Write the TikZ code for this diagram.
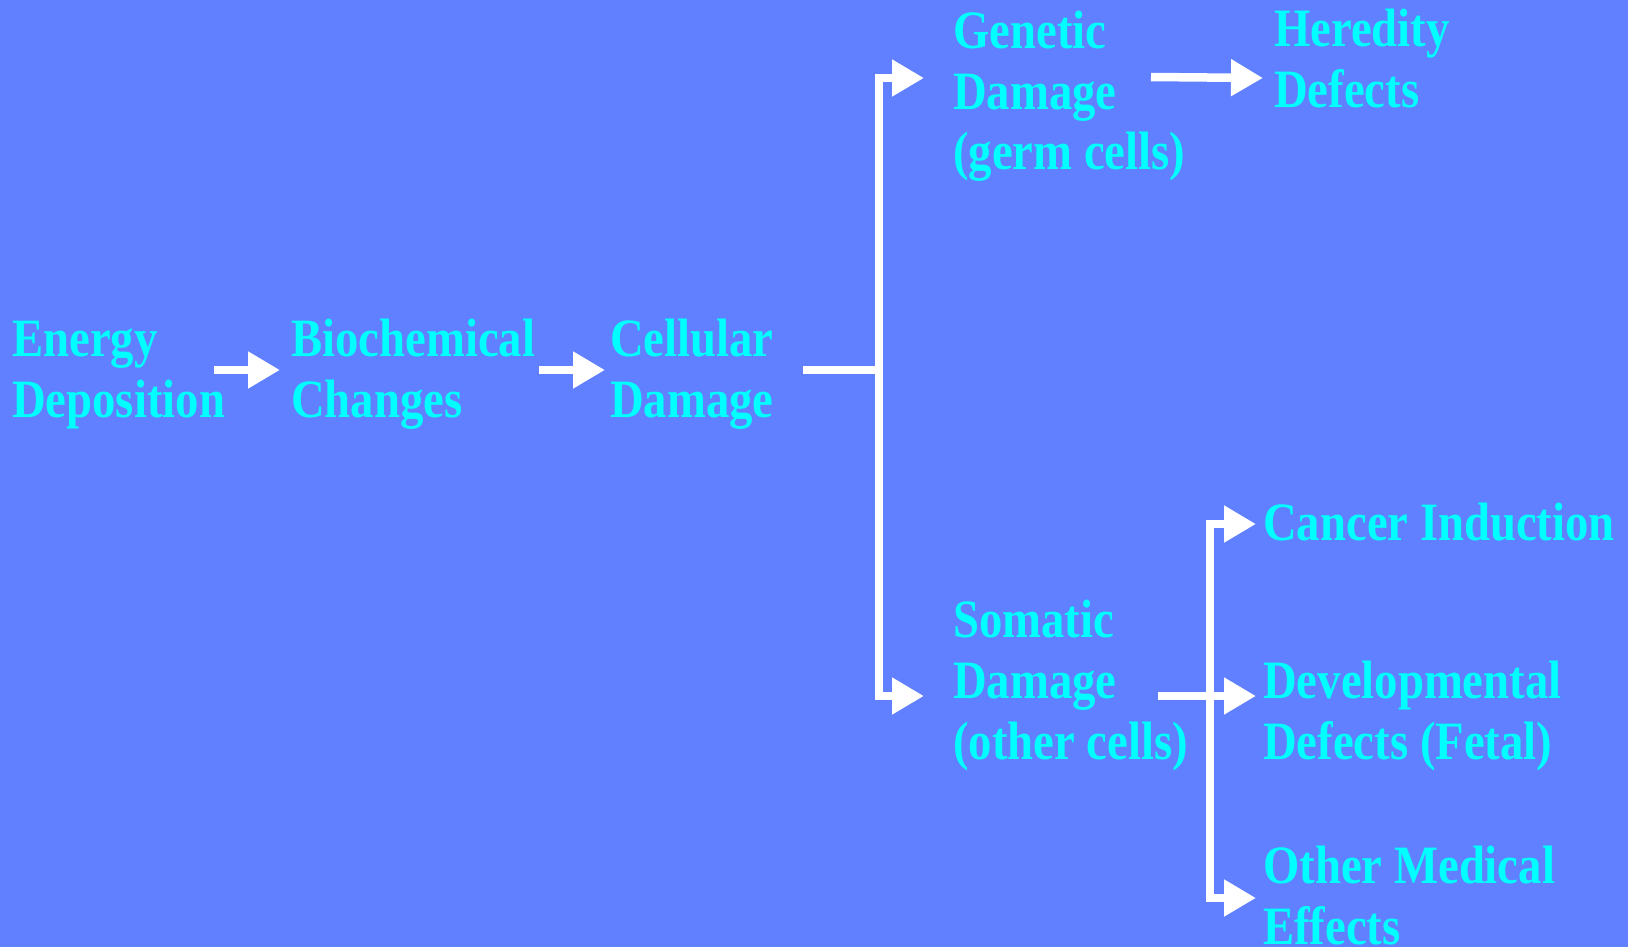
\documentclass[tikz,border=0pt]{standalone}
\usepackage{fontspec}
\setmainfont{Liberation Serif}[FakeStretch=0.865]
\usetikzlibrary{arrows.meta}
\definecolor{bgblue}{HTML}{6080FF}
\definecolor{txtcyan}{HTML}{00FFFF}
\begin{document}
\begin{tikzpicture}[x=1pt,y=-1pt,
  lbl/.style={anchor=base west, inner sep=0pt, align=left, text=txtcyan,
    font=\bfseries\fontsize{54}{61}\selectfont},
  conn/.style={draw=white, line width=8.5pt},
  arr/.style={conn, -{Triangle[length=32pt,width=35pt]}}]
\fill[bgblue] (0,0) rectangle (1628,947);
\useasboundingbox (0,0) rectangle (1628,947);
% nodes (anchor = baseline of last line)
\node[lbl] (energy) at (12,417) {Energy\\Deposition};
\node[lbl] (bio) at (291,417) {Biochemical\\Changes};
\node[lbl] (cell) at (610,417) {Cellular\\Damage};
\node[lbl] (gen) at (953,170) {Genetic\\Damage\\(germ cells)};
\node[lbl] (her) at (1274,108) {Heredity\\Defects};
\node[lbl] (som) at (953,759) {Somatic\\Damage\\(other cells)};
\node[lbl] (can) at (1263,540) {Cancer Induction};
\node[lbl] (dev) at (1263,759) {Developmental\\Defects (Fetal)};
\node[lbl] (oth) at (1263,944) {Other Medical\\Effects};
% connector coordinates
\coordinate (e1) at (214,370);  \coordinate (b1) at (280,370);
\coordinate (b2) at (539,370);  \coordinate (c1) at (605,370);
\coordinate (c2) at (803,370);  \coordinate (j1) at (879,370);
\coordinate (gtip) at (924,78); \coordinate (stip) at (924,696);
\coordinate (g2) at (1151,77);  \coordinate (htip) at (1263,78);
\coordinate (s2) at (1158,696); \coordinate (j2) at (1210,696);
\coordinate (ctip) at (1256,524); \coordinate (dtip) at (1256,696);
\coordinate (otip) at (1256,898);
% connectors
\draw[arr] (e1) -- (b1);
\draw[arr] (b2) -- (c1);
\draw[conn] (c2) -- (j1);
\draw[arr] (j1) |- (gtip);
\draw[arr] (j1) |- (stip);
\draw[arr] (g2) -- (htip);
\draw[arr] (s2) -- (dtip);
\draw[arr] (j2) |- (ctip);
\draw[arr] (j2) |- (otip);
\end{tikzpicture}
\end{document}
